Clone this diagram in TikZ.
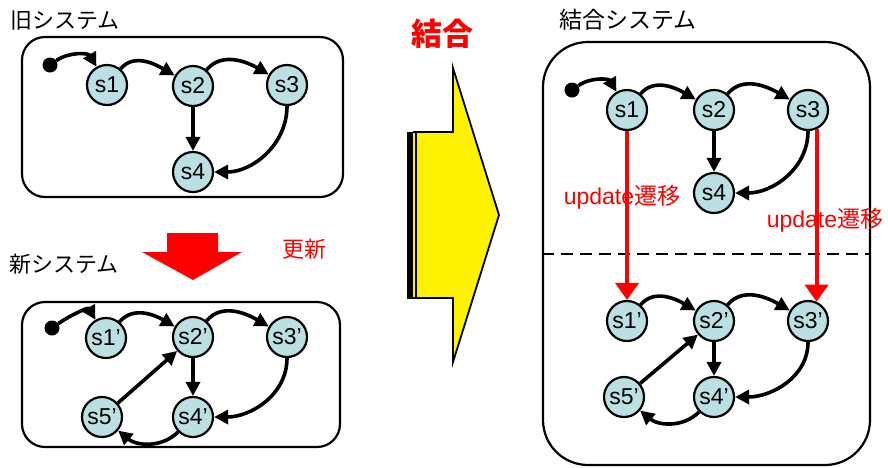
\documentclass[tikz,border=0pt]{standalone}
\usepackage{fontspec}
\setmainfont{Liberation Sans}
\newfontfamily\cjk{Noto Sans CJK JP}
\usetikzlibrary{arrows.meta}
\definecolor{stfill}{RGB}{187,224,227}
\tikzset{
  state/.style={circle, draw, line width=2.2pt, fill=stfill, minimum size=40pt, inner sep=0pt,
    font=\fontsize{23}{23}\selectfont},
  initdot/.style={circle, fill=black, minimum size=15pt, inner sep=0pt},
  tr/.style={line width=3.6pt, -{Triangle[length=14pt,width=14pt]}},
  upd/.style={red, line width=4pt, -{Triangle[length=17pt,width=23pt]}},
  sysbox/.style={draw, line width=2.2pt, inner sep=0pt},
  ttl/.style={font=\cjk\fontsize{22}{22}\selectfont},
  redlbl/.style={text=red, font=\fontsize{23}{23}\selectfont},
}
\begin{document}
\begin{tikzpicture}[x=1pt,y=1pt]
\useasboundingbox (0,0) rectangle (888,-467);

% ---------- old system ----------
\node[ttl] (t1) at (65,-21) {旧システム};
\node[sysbox, rounded corners=23pt, minimum width=321pt, minimum height=160pt] (b1) at (182.5,-117) {};
\node[initdot] (d1) at (50,-65) {};
\node[state] (a1) at (107,-85) {s1};
\node[state] (a2) at (193,-86) {s2};
\node[state] (a3) at (287,-85) {s3};
\node[state] (a4) at (193,-172) {s4};
\draw[tr] (d1) to[out=35,in=120] (a1);
\draw[tr] (a1) to[out=50,in=150] (a2);
\draw[tr] (a2) to[out=50,in=150] (a3);
\draw[tr] (a2) -- (a4);
\draw[tr] (a3) to[out=-90,in=0] (a4);

% ---------- update arrow ----------
\node[ttl] (t2) at (64,-264) {新システム};
\node[redlbl, font=\cjk\fontsize{22}{22}\selectfont] (upd) at (304,-249) {更新};
\fill[red] (167,-233) -- (218,-233) -- (218,-252) -- (242,-252) -- (193,-280) -- (142,-252) -- (167,-252) -- cycle;

% ---------- new system ----------
\node[sysbox, rounded corners=23pt, minimum width=318pt, minimum height=145pt] (b2) at (181,-374.5) {};
\node[initdot] (d2) at (52,-328) {};
\node[state] (n1) at (106,-338) {s1'};
\node[state] (n2) at (193,-337) {s2'};
\node[state] (n3) at (287,-337) {s3'};
\node[state] (n4) at (193,-417) {s4'};
\node[state] (n5) at (102,-417) {s5'};
\draw[tr] (d2) to[out=35,in=120] (n1);
\draw[tr] (n1) to[out=50,in=150] (n2);
\draw[tr] (n2) to[out=50,in=150] (n3);
\draw[tr] (n2) -- (n4);
\draw[tr] (n3) to[out=-90,in=0] (n4);
\draw[tr] (n4) to[out=-135,in=-40] (n5);
\draw[tr] (n5) -- (n2);

% ---------- merge arrow ----------
\node[text=red, font=\cjk\bfseries\fontsize{31}{31}\selectfont] (merge) at (442,-34) {結合};
\fill[black] (407,-131.5) rectangle (413,-298.5);
\fill[yellow] (413,-132.5) rectangle (416,-297.5);
\draw[line width=1.4pt] (413,-132) -- (416,-132) (413,-298) -- (416,-298);
\draw[line width=1.8pt, fill=yellow, line join=miter]
  (416,-132) -- (453,-132) -- (453,-68) -- (499,-215) -- (453,-362) -- (453,-298) -- (416,-298) -- cycle;

% ---------- merged system ----------
\node[ttl, font=\cjk\fontsize{23}{23}\selectfont] (t3) at (628,-20) {結合システム};
\node[sysbox, rounded corners=45pt, minimum width=327pt, minimum height=423pt] (b3) at (706.5,-253.5) {};
\coordinate (dl) at (b3.west |- 0,-254);
\coordinate (dr) at (b3.east |- 0,-254);
\draw[line width=2.4pt, dash pattern=on 12pt off 7pt] (dl) -- (dr);

\node[initdot] (d3) at (572,-90) {};
\node[state] (m1) at (627,-110) {s1};
\node[state] (m2) at (714,-110) {s2};
\node[state] (m3) at (808,-110) {s3};
\node[state] (m4) at (714,-193) {s4};
\node[state] (p1) at (627,-321) {s1'};
\node[state] (p2) at (714,-321) {s2'};
\node[state] (p3) at (808,-321) {s3'};
\node[state] (p4) at (714,-397) {s4'};
\node[state] (p5) at (624,-397) {s5'};

\draw[tr] (d3) to[out=35,in=120] (m1);
\draw[tr] (m1) to[out=50,in=150] (m2);
\draw[tr] (m2) to[out=50,in=150] (m3);
\draw[tr] (m2) -- (m4);
\draw[tr] (m3) to[out=-90,in=0] (m4);

\draw[tr] (p1) to[out=50,in=150] (p2);
\draw[tr] (p2) to[out=50,in=150] (p3);
\draw[tr] (p2) -- (p4);
\draw[tr] (p3) to[out=-90,in=0] (p4);
\draw[tr] (p4) to[out=-135,in=-40] (p5);
\draw[tr] (p5) -- (p2);

\draw[upd] (m1.south) -- (p1.north);
\draw[upd] (m3.-66) -- (p3.66);

\node[redlbl] (u1) at (622,-197) {update{\cjk 遷移}};
\node[redlbl] (u2) at (825,-220) {update{\cjk 遷移}};
\end{tikzpicture}
\end{document}
